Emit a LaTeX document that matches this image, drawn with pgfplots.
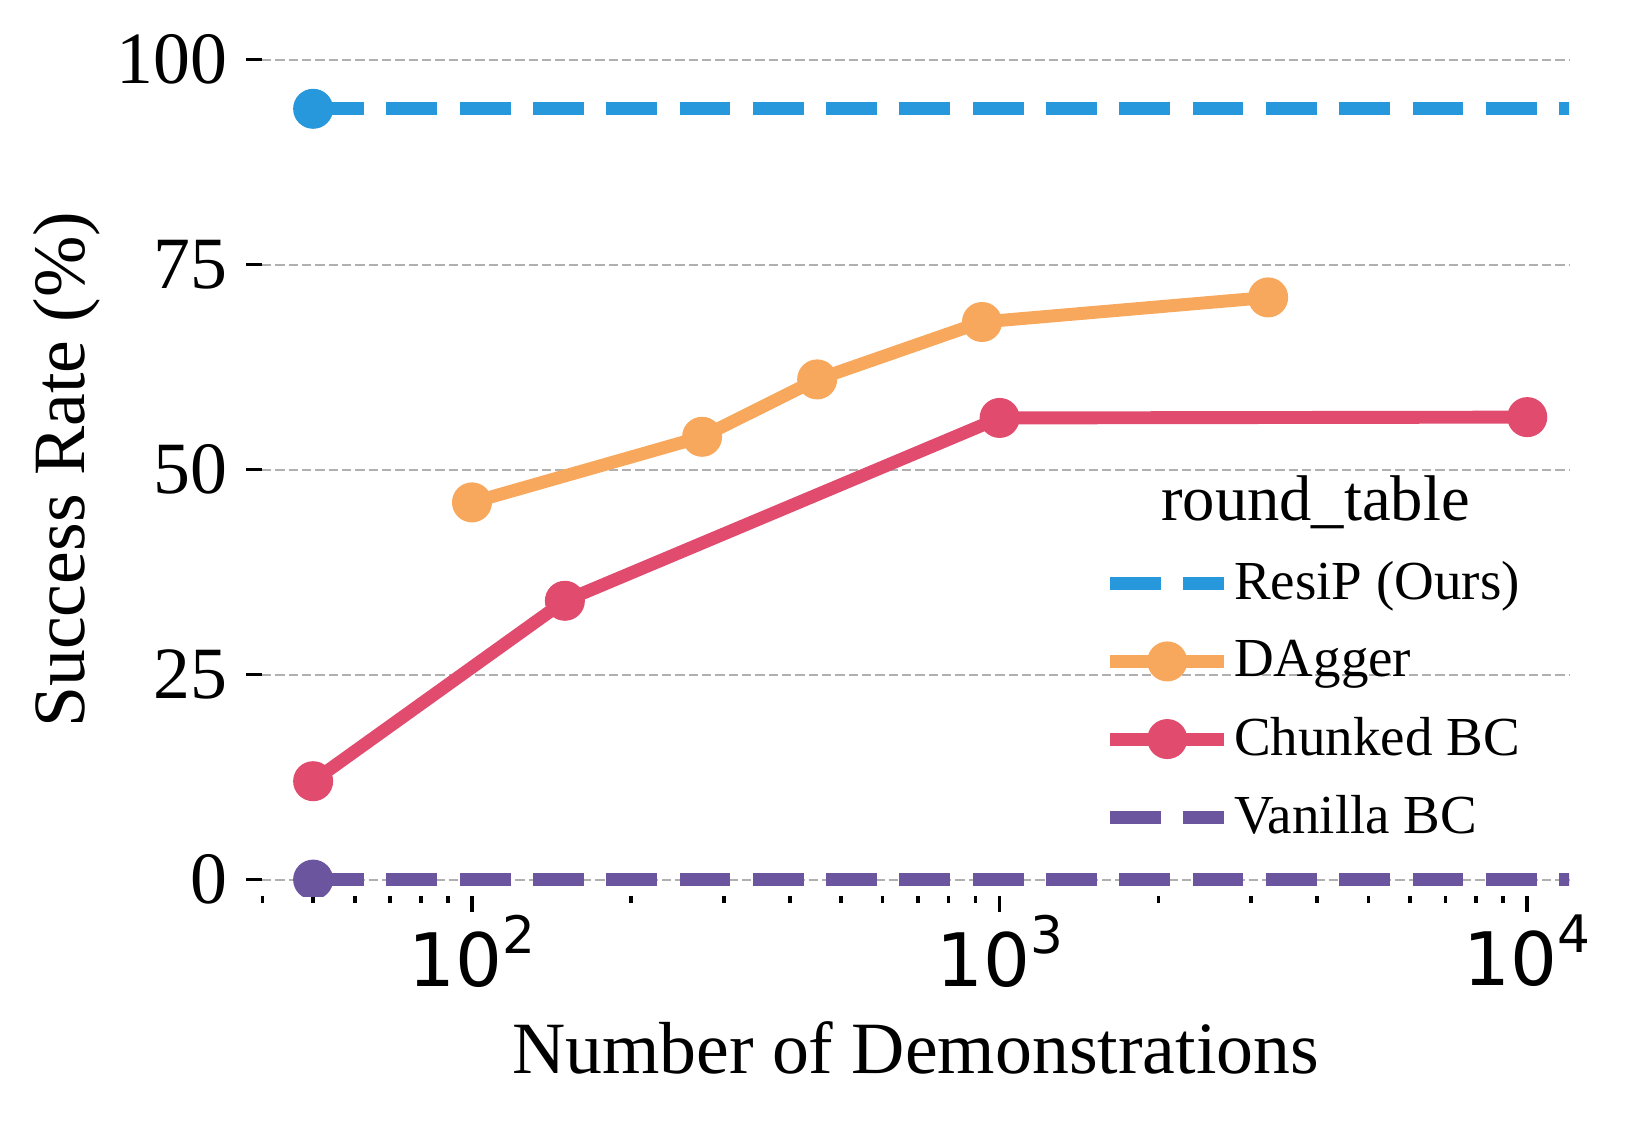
\documentclass[border=0pt]{standalone}
\usepackage{fontspec}
\setmainfont{Liberation Serif}
\newfontfamily\dejavu{DejaVu Sans}
\usepackage{pgfplots}
\pgfplotsset{compat=1.18}

\definecolor{cResiP}{HTML}{2698DB}
\definecolor{cDAgger}{HTML}{F8A85C}
\definecolor{cChunk}{HTML}{E14B6E}
\definecolor{cVanilla}{HTML}{6A559E}
\definecolor{cGrid}{HTML}{B0B0B0}

\newcommand\xl[1]{{\dejavu 10\raisebox{0.45em}{\fontsize{12.4bp}{12.4bp}\selectfont #1}}}

\begin{document}
\begin{tikzpicture}
\useasboundingbox (-62.88bp,-53.76bp) rectangle (327.84bp,215.04bp);
\begin{axis}[
    at={(0,0)}, anchor=south west,
    scale only axis,
    width=313.68bp, height=204.67bp,
    xmode=log,
    xmin=40, xmax=12000,
    ymin=-2, ymax=102,
    clip=true,
    clip marker paths=true,
    axis line style={draw=none},
    tick align=outside,
    xtick pos=bottom, ytick pos=left,
    xtick={100,1000,10000},
    xticklabels={\xl{2},\xl{3},\xl{4}},
    minor xtick={40.1,50,60,70,80,90,200,300,400,500,600,700,800,900,2000,3000,4000,5000,6000,7000,8000,9000},
    ytick={0,25,50,75,100},
    yticklabels={0,25,50,75,100},
    major tick length=3.8bp,
    minor tick length=1.7bp,
    every tick/.style={black, line width=0.9bp},
    tick label style={font=\fontsize{17.7bp}{20bp}\selectfont},
    yticklabel style={inner sep=0pt, xshift=-4.3bp},
    xticklabel style={inner sep=0pt, yshift=-0.5bp},
    ymajorgrids=true,
    grid style={cGrid, line width=0.5bp, dash pattern=on 2.2bp off 1bp},
    xlabel={Number of Demonstrations},
    ylabel={Success Rate (\%)},
    every axis x label/.style={at={(rel axis cs:0.5,0)}, anchor=center, yshift=-36.5bp,
        font=\fontsize{17.7bp}{20bp}\selectfont},
    every axis y label/.style={at={(rel axis cs:0,0.5)}, rotate=90, anchor=center, yshift=46.8bp,
        font=\fontsize{17.7bp}{20bp}\selectfont},
    legend style={draw=none, fill=none, inner sep=0pt, outer sep=0pt,
        at={(rel axis cs:0.644,0.229)}, anchor=west,
        font=\fontsize{13.2bp}{15bp}\selectfont, row sep=6.6bp,
        nodes={inner sep=0.8bp}},
    legend cell align=left,
    legend image code/.code={\draw[mark repeat=2,mark phase=2,#1] plot coordinates {(0bp,0bp) (13.7bp,0bp) (27.4bp,0bp)};},
]
% ResiP (Ours)
\addplot[cResiP, line width=3.1bp, dash pattern=on 12.2bp off 5.39bp, line cap=butt]
  coordinates {(50,94) (30000,94)};
\addlegendentry{ResiP (Ours)}
% DAgger
\addplot[cDAgger, line width=3.1bp, mark=*, mark size=4.4bp, mark options={solid, line width=0.8bp, draw=cDAgger, fill=cDAgger}]
  coordinates {(100,46) (273,54) (451,61) (926,68) (3228,71)};
\addlegendentry{DAgger}
% Chunked BC
\addplot[cChunk, line width=3.1bp, mark=*, mark size=4.4bp, mark options={solid, line width=0.8bp, draw=cChunk, fill=cChunk}]
  coordinates {(50,12) (150,34) (1000,56.3) (10000,56.4)};
\addlegendentry{Chunked BC}
% Vanilla BC
\addplot[cVanilla, line width=3.1bp, dash pattern=on 12.2bp off 5.39bp, line cap=butt]
  coordinates {(50,0) (30000,0)};
\addlegendentry{Vanilla BC}
% markers at first point of the dashed series
\addplot[forget plot, cResiP, only marks, mark=*, mark size=4.4bp, mark options={solid, line width=0.8bp, draw=cResiP, fill=cResiP}]
  coordinates {(50,94)};
\addplot[forget plot, cVanilla, only marks, mark=*, mark size=4.4bp, mark options={solid, line width=0.8bp, draw=cVanilla, fill=cVanilla}]
  coordinates {(50,0)};
\node at (rel axis cs:0.806,0.4617) {\fontsize{15.5bp}{18bp}\selectfont round\_table};
\end{axis}
\end{tikzpicture}
\end{document}
